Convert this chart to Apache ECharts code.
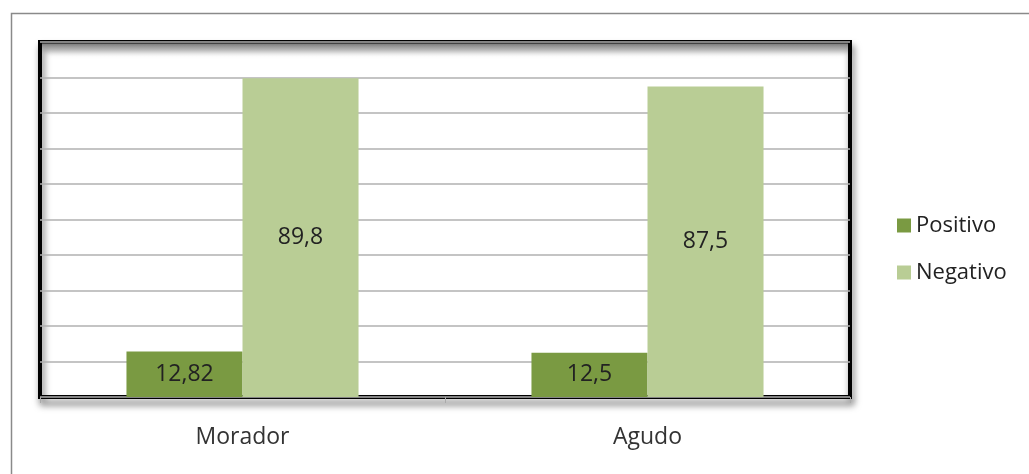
<!DOCTYPE html>
<html>
<head>
<meta charset="utf-8">
<script src="https://cdn.jsdelivr.net/npm/echarts@6/dist/echarts.min.js"></script>
<style>html,body{margin:0;padding:0;background:#fff;}#c{width:1029px;height:474px;}</style>
</head>
<body>
<div id="c"></div>
<script>
var categories = ['Morador', 'Agudo'];
var positivo = [12.82, 12.5];
var negativo = [89.8, 87.5];
var positivoLabels = ['12,82', '12,5'];
var negativoLabels = ['89,8', '87,5'];

var chart = echarts.init(document.getElementById('c'), null, {renderer: 'canvas'});
var font = '"Open Sans", "DejaVu Sans", sans-serif';
chart.setOption({
  animation: false,
  backgroundColor: '#ffffff',
  graphic: [
    {type: 'rect', left: 9, top: 11, shape: {width: 1040, height: 480}, style: {fill: 'none', stroke: '#8a8a8a', lineWidth: 1.5}, z: 0},
    {type: 'rect', left: 42, top: 43, shape: {width: 806, height: 14},
      style: {fill: new echarts.graphic.LinearGradient(0, 0, 0, 1, [{offset: 0, color: 'rgba(80,80,80,0.8)'}, {offset: 1, color: 'rgba(255,255,255,0)'}])}, z: 5}
  ],
  legend: {
    orient: 'vertical', left: 892, top: 207,
    itemWidth: 14, itemHeight: 14, itemGap: 20,
    icon: 'rect',
    textStyle: {fontFamily: font, fontSize: 22, color: '#222', lineHeight: 27},
    data: ['Positivo', 'Negativo']
  },
  grid: {
    left: 40, right: 179, top: 42, bottom: 77,
    show: true, borderColor: '#000', borderWidth: 4,
    shadowBlur: 7, shadowColor: 'rgba(0,0,0,0.6)', shadowOffsetX: 2, shadowOffsetY: 6,
    backgroundColor: 'rgba(255,255,255,0)'
  },
  xAxis: {
    type: 'category', data: categories,
    axisLine: {show: false},
    axisTick: {show: true, length: 6, lineStyle: {color: '#aaa'}},
    axisLabel: {fontFamily: font, fontSize: 23, color: '#333', margin: 29}
  },
  yAxis: {
    type: 'value', min: 0, max: 100, interval: 10,
    axisLabel: {show: false}, axisLine: {show: false}, axisTick: {show: false},
    splitLine: {lineStyle: {color: '#b0b0b0', width: 1.5}}
  },
  series: [
    {name: 'Positivo', type: 'bar', data: positivo, barGap: '0%', barCategoryGap: '42.7%',
      itemStyle: {color: '#7a9a42'},
      label: {show: true, position: 'inside', fontFamily: font, fontSize: 23, color: '#222',
        formatter: function (p) { return positivoLabels[p.dataIndex]; }}},
    {name: 'Negativo', type: 'bar', data: negativo, barGap: '0%', barCategoryGap: '42.7%',
      itemStyle: {color: '#b9cd95'},
      label: {show: true, position: 'inside', fontFamily: font, fontSize: 23, color: '#222',
        formatter: function (p) { return negativoLabels[p.dataIndex]; }}}
  ]
});
</script>
</body>
</html>
